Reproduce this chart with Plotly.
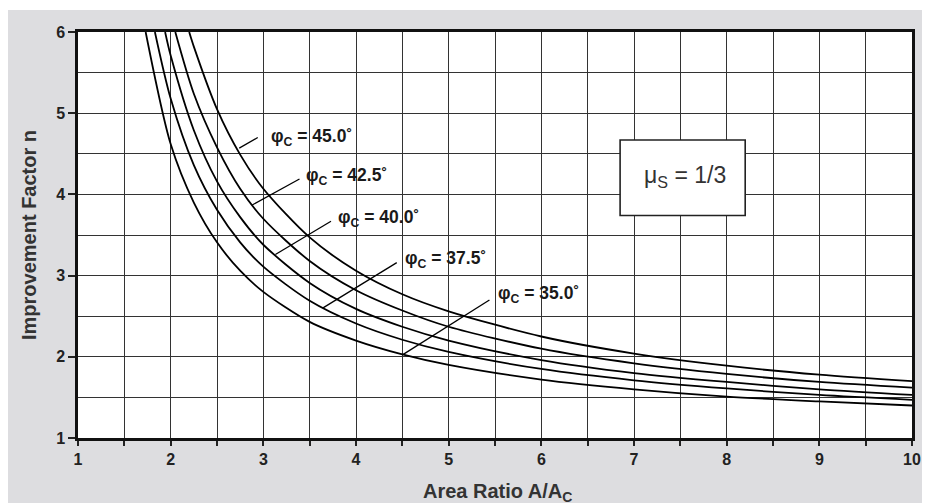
import plotly.graph_objects as go

# ---- data ----
x_35 = [1.73, 2.0, 2.25, 2.5, 2.75, 3.0, 3.5, 4.0, 4.5, 5.0, 6.0, 7.0, 8.0, 9.0, 10.0]
n_35 = [6.0, 4.62, 3.90, 3.41, 3.06, 2.80, 2.43, 2.20, 2.03, 1.90, 1.72, 1.60, 1.51, 1.45, 1.40]

x_375 = [1.83, 2.0, 2.25, 2.5, 2.75, 3.0, 3.5, 4.0, 4.5, 5.0, 6.0, 7.0, 8.0, 9.0, 10.0]
n_375 = [6.0, 5.18, 4.36, 3.81, 3.41, 3.11, 2.69, 2.41, 2.21, 2.06, 1.85, 1.71, 1.61, 1.53, 1.47]

x_40 = [1.94, 2.0, 2.25, 2.5, 2.75, 3.0, 3.5, 4.0, 4.5, 5.0, 6.0, 7.0, 8.0, 9.0, 10.0]
n_40 = [6.0, 5.71, 4.79, 4.16, 3.72, 3.38, 2.91, 2.59, 2.37, 2.20, 1.96, 1.80, 1.69, 1.60, 1.53]

x_425 = [2.05, 2.25, 2.5, 2.75, 3.0, 3.5, 4.0, 4.5, 5.0, 6.0, 7.0, 8.0, 9.0, 10.0]
n_425 = [6.0, 5.24, 4.58, 4.07, 3.70, 3.18, 2.82, 2.57, 2.37, 2.10, 1.92, 1.79, 1.69, 1.62]

x_45 = [2.20, 2.25, 2.5, 2.75, 3.0, 3.5, 4.0, 4.5, 5.0, 6.0, 7.0, 8.0, 9.0, 10.0]
n_45 = [6.0, 5.82, 5.05, 4.49, 4.07, 3.47, 3.06, 2.77, 2.56, 2.25, 2.04, 1.89, 1.78, 1.70]

curve_labels = ["φ<sub>C</sub> = 35.0˚", "φ<sub>C</sub> = 37.5˚", "φ<sub>C</sub> = 40.0˚",
                "φ<sub>C</sub> = 42.5˚", "φ<sub>C</sub> = 45.0˚"]

x_ticks = [1, 2, 3, 4, 5, 6, 7, 8, 9, 10]
y_ticks = [1, 2, 3, 4, 5, 6]

# label leader lines: (curve point x, y) -> (line end x, y); label anchor positions
leader_start = [(4.51, 2.03), (3.64, 2.60), (3.13, 3.26), (2.88, 3.87), (2.74, 4.57)]
leader_end = [(5.44, 2.70), (4.44, 3.16), (3.73, 3.67), (3.39, 4.19), (2.94, 4.70)]
label_pos = [(5.51, 2.765), (4.51, 3.196), (3.78, 3.709), (3.44, 4.222), (3.06, 4.695)]

series = [(x_35, n_35), (x_375, n_375), (x_40, n_40), (x_425, n_425), (x_45, n_45)]

FONT = "Liberation Sans, Arial, sans-serif"
BG = "rgb(221,221,224)"
W, H = 914, 495
L, R, T, B = 70, 10, 24, 65
PW, PH = W - L - R, H - T - B

fig = go.Figure()
for (xs, ns), lab in zip(series, curve_labels):
    fig.add_trace(go.Scatter(x=xs, y=ns, mode="lines",
                             line=dict(color="black", width=1.8, shape="spline", smoothing=0.8),
                             name=lab, showlegend=False, hoverinfo="skip"))

shapes = []
annotations = []
for (x0, y0), (x1, y1), (lx, ly), lab in zip(leader_start, leader_end, label_pos, curve_labels):
    shapes.append(dict(type="line", xref="x", yref="y", x0=x0, y0=y0, x1=x1, y1=y1,
                       line=dict(color="black", width=1.3), layer="above"))
    annotations.append(dict(x=lx, y=ly, xref="x", yref="y", text="<b>" + lab + "</b>",
                            showarrow=False, xanchor="left", yanchor="middle",
                            font=dict(family=FONT, size=17.5, color="#1a1a1a")))

# mu box
shapes.append(dict(type="rect", xref="x", yref="y", x0=6.85, x1=8.20, y0=3.74, y1=4.67,
                   line=dict(color="#222", width=1.6), fillcolor="white", layer="above"))
annotations.append(dict(x=7.55, y=4.22, xref="x", yref="y", text="μ<sub>S</sub> = 1/3", showarrow=False,
                        font=dict(family=FONT, size=23, color="#333"), xanchor="center", yanchor="middle"))

# axis titles
annotations.append(dict(x=(489 - L) / PW, y=-(484 - (H - B)) / PH, xref="paper", yref="paper",
                        text="<b>Area Ratio A/A<sub>C</sub></b>", showarrow=False,
                        xanchor="center", yanchor="middle",
                        font=dict(family=FONT, size=20, color="#333")))
annotations.append(dict(x=(21 - L) / PW, y=1 - (227 - T) / PH, xref="paper", yref="paper",
                        text="<b>Improvement Factor n</b>", showarrow=False, textangle=-90,
                        xanchor="center", yanchor="middle",
                        font=dict(family=FONT, size=20, color="#333")))

# thin white strip at the very top
shapes.append(dict(type="rect", xref="paper", yref="paper", x0=-0.2, x1=1.2, y0=1 + (T - 2) / PH, y1=1.2,
                   line=dict(width=0), fillcolor="white", layer="below"))

fig.update_layout(
    width=W, height=H, autosize=False,
    margin=dict(l=L, r=R, t=T, b=B, autoexpand=False),
    paper_bgcolor=BG, plot_bgcolor="white",
    font=dict(family=FONT, color="#222"),
    shapes=shapes, annotations=annotations,
    xaxis=dict(range=[1, 10], tickvals=x_ticks, ticktext=["<b>%d</b>" % v for v in x_ticks],
               automargin=False,
               showgrid=True, gridcolor="#333", gridwidth=1.2,
               ticks="outside", ticklen=5, tickwidth=1.5, tickcolor="#222",
               minor=dict(dtick=0.5, showgrid=True, gridcolor="#333", gridwidth=1.2,
                          ticks="outside", ticklen=5, tickwidth=1.5, tickcolor="#222"),
               showline=True, linecolor="#111", linewidth=2.5, mirror=True, zeroline=False,
               tickfont=dict(family=FONT, size=16, color="#222")),
    yaxis=dict(range=[1, 6], tickvals=y_ticks, ticktext=["<b>%d</b>" % v for v in y_ticks],
               automargin=False,
               showgrid=True, gridcolor="#333", gridwidth=1.2,
               ticks="outside", ticklen=7, tickwidth=1.5, tickcolor="#222",
               minor=dict(dtick=0.5, showgrid=True, gridcolor="#333", gridwidth=1.2),
               showline=True, linecolor="#111", linewidth=2.5, mirror=True, zeroline=False,
               tickfont=dict(family=FONT, size=16, color="#222")),
)

fig.write_html("out.html", config={"displayModeBar": False, "responsive": False})
